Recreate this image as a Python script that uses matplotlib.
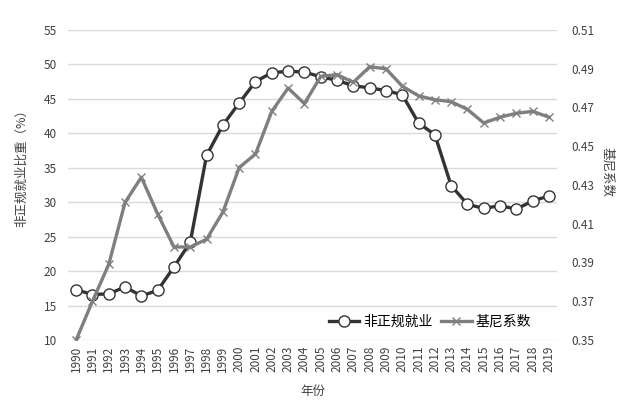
import numpy as np
import matplotlib
matplotlib.use('Agg')
import matplotlib.pyplot as plt

plt.rcParams['font.family'] = ['Noto Sans CJK SC', 'DejaVu Sans']

# 数据
years = list(range(1990, 2020))
irregular = [17.3, 16.6, 16.7, 17.7, 16.4, 17.2, 20.6, 24.2, 36.8, 41.2,
             44.4, 47.5, 48.8, 49.0, 48.9, 48.2, 47.7, 46.9, 46.6, 46.2,
             45.6, 41.5, 39.8, 32.4, 29.7, 29.1, 29.5, 29.0, 30.2, 30.9]
gini = [0.350, 0.370, 0.389, 0.421, 0.434, 0.415, 0.398, 0.398, 0.402, 0.416,
        0.439, 0.446, 0.468, 0.480, 0.472, 0.486, 0.487, 0.483, 0.491, 0.490,
        0.481, 0.476, 0.474, 0.473, 0.469, 0.462, 0.465, 0.467, 0.468, 0.465]
left_ticks = [10, 15, 20, 25, 30, 35, 40, 45, 50, 55]
right_ticks = [0.35, 0.37, 0.39, 0.41, 0.43, 0.45, 0.47, 0.49, 0.51]

fig = plt.figure(figsize=(6.26, 4.09), dpi=100)
ax = fig.add_axes([0.1086, 0.1687, 0.7814, 0.758])
ax2 = ax.twinx()

ln1, = ax.plot(years, irregular, color='#333333', lw=2.4, marker='o', ms=8,
               mfc='white', mec='#333333', mew=1.0, label='非正规就业')
ln2, = ax2.plot(years, gini, color='#7f7f7f', lw=2.4, marker='x', ms=6,
                mew=1.0, label='基尼系数')

ax.set_xlim(1989.5, 2019.5)
ax.set_ylim(10, 55)
ax.set_yticks(left_ticks)
ax2.set_ylim(0.35, 0.51)
ax2.set_yticks(right_ticks)
ax2.set_yticklabels([f'{v:.2f}' for v in right_ticks])
ax.set_xticks(years)
ax.set_xticklabels([str(y) for y in years], rotation=90)

ax.grid(axis='y', color='#d9d9d9', lw=1)
ax.set_axisbelow(True)
for a in (ax, ax2):
    for s in a.spines.values():
        s.set_visible(False)
    a.tick_params(length=0, labelsize=8.5, colors='#404040')
ax.tick_params(axis='x', pad=4)
ax.tick_params(axis='y', pad=8)
ax2.tick_params(axis='y', pad=10)

# 轴标题
fig.text(22 / 626, 1 - 165 / 409, '非正规就业比重（%）', rotation=90,
         ha='center', va='center', fontsize=9, color='#404040')
fig.text(607 / 626, 1 - 172 / 409, '基尼系数', rotation=270,
         ha='center', va='center', fontsize=9, color='#404040')
ax.set_xlabel('年份', fontsize=9, color='#404040', labelpad=9)

ax2.legend([ln1, ln2], ['非正规就业', '基尼系数'], loc='center', bbox_to_anchor=(0.74, 0.06),
           ncol=2, frameon=False, fontsize=10, handlelength=2.2, columnspacing=0.6,
           handletextpad=0.3)

fig.savefig('out.png', dpi=100)
